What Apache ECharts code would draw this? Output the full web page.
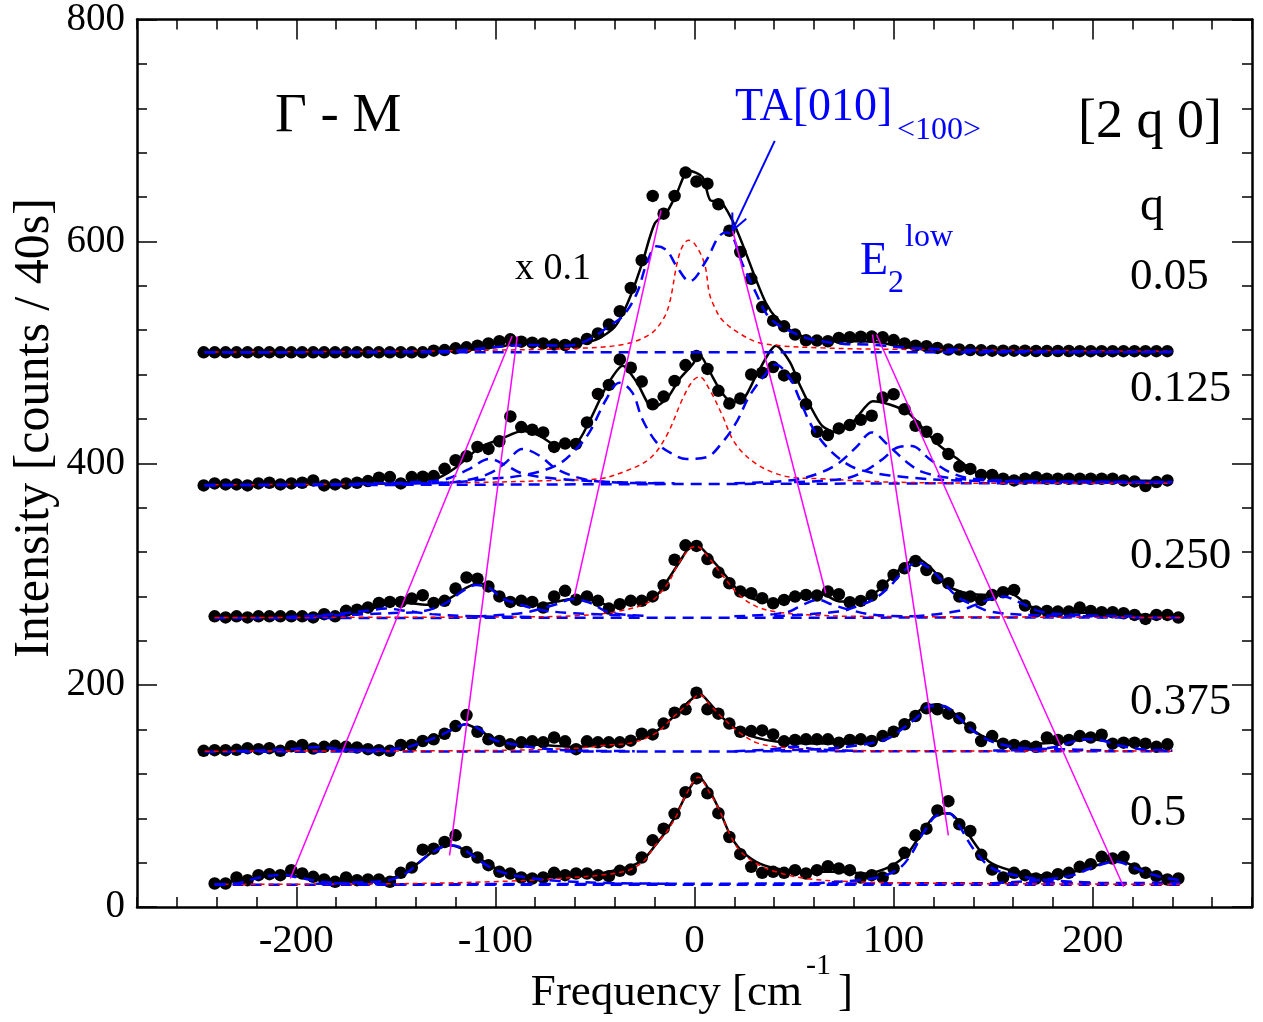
<!DOCTYPE html>
<html>
<head>
<meta charset="utf-8">
<title>Gamma - M [2 q 0]</title>
<script src="https://cdn.jsdelivr.net/npm/echarts@6.0.0/dist/echarts.min.js"></script>
<style>
  html, body { margin: 0; padding: 0; background: #fff; }
  #chart { width: 1263px; height: 1022px; }
</style>
</head>
<body>
<div id="chart"></div>
<script>
// frequency grid of the measured points (cm^-1)
const freq = [-246.5, -241, -235.5, -230, -224.5, -219, -213.5, -208, -202.5, -197,
  -191.5, -186, -180.5, -175, -169.5, -164, -158.5, -153, -147.5, -142,
  -136.5, -131, -125.5, -120, -114.5, -109, -103.5, -98, -92.5, -87,
  -81.5, -76, -70.5, -65, -59.5, -54, -48.5, -43, -37.5, -32,
  -26.5, -21, -15.5, -10, -4.5, 1, 6.5, 12, 17.5, 23,
  28.5, 34, 39.5, 45, 50.5, 56, 61.5, 67, 72.5, 78,
  83.5, 89, 94.5, 100, 105.5, 111, 116.5, 122, 127.5, 133,
  138.5, 144, 149.5, 155, 160.5, 166, 171.5, 177, 182.5, 188,
  193.5, 199, 204.5, 210, 215.5, 221, 226.5, 232, 237.5, 243];

// measured counts (offset), q = 0.05 / 0.125 / 0.375 start at freq[0], q = 0.25 / 0.5 at freq[1]
const dotsQ005 = [500, 500, 500, 500, 500, 500, 500, 500, 500, 500,
  500, 500, 500, 500, 500, 500, 500, 500, 500, 500,
  500, 501.5, 502, 503.6, 504.5, 506, 508, 510, 511.7, 509.6,
  508.7, 508, 507, 506.6, 508, 512, 517, 525, 537, 558,
  583, 641, 625, 641, 662, 654, 652, 633.5, 609.6, 590.4,
  566.2, 540.8, 528.5, 523.4, 516, 510.9, 510.6, 510, 513, 513.6,
  514, 514.2, 513.6, 511, 508, 506, 505.5, 504, 502.5, 502.5,
  502, 501.8, 501.5, 501.5, 501.5, 501.5, 501.2, 501.2, 501.2, 501.2,
  501, 501, 501, 501, 501, 501, 501, 501, 501];
const dotsQ0125 = [380, 381.8, 380.9, 380.9, 380, 381.8, 382.4, 380.9, 381.8, 382.4,
  384.5, 380, 380.9, 381.8, 382.4, 383.9, 386.9, 387.5, 381.8, 387.5,
  387.8, 388.4, 395, 402.7, 406.3, 414.7, 412.9, 419.8, 442.2, 432.6,
  430.2, 427.8, 414.7, 417.7, 417.4, 436.8, 462.5, 470.6, 493.6, 486.1,
  473.6, 453.2, 460.1, 474.2, 488.5, 496.6, 485, 465.3, 453.8, 458.3,
  480, 481.6, 486.7, 479.2, 477.1, 453.2, 428.4, 425.4, 431.4, 434.4,
  439.2, 442.8, 459.2, 462.2, 448.7, 433.8, 428.4, 421.8, 408.3, 397,
  394.9, 389.5, 389.5, 386, 384.5, 386, 387.4, 386, 386, 386,
  386, 386, 386, 386, 384.5, 383.6, 379.4, 383, 384.5];
const dotsQ025 = [262, 261, 262, 261, 262, 262, 262, 262, 262, 261,
  264, 262, 267, 268, 270, 274, 275, 275, 278, 281,
  274, 276, 287, 297, 296, 289, 280, 275, 276, 275,
  270, 280, 285, 277, 280, 276, 269, 273, 276, 276,
  280, 290, 313, 326, 325.5, 313.6, 301.6, 291.8, 284.3, 282.8,
  278.3, 273.8, 276.8, 279.8, 281.3, 280.7, 284.3, 281.9, 274.7, 275.9,
  280.7, 289.7, 299.3, 305.3, 311.9, 303.8, 296.3, 291.8, 279.8, 279.8,
  276.8, 281.3, 283.7, 285.8, 271.7, 266.3, 266.9, 266.3, 266.3, 269.9,
  266.9, 265.7, 265.7, 264.8, 263.3, 259.7, 263.3, 263.3, 260.9];
const dotsQ0375 = [140.8, 141.4, 141.4, 141.7, 143.2, 142.3, 143.2, 140.8, 144.9, 146.1,
  142.9, 144.4, 145.3, 144.4, 143.8, 142.3, 141.4, 140.8, 146.1, 146.1,
  149.6, 151.1, 156.2, 163.1, 173, 158, 151.1, 149.6, 146.6, 148.4,
  149.3, 148.4, 152.8, 149.3, 142.3, 149.3, 148.4, 148.4, 148.4, 149.9,
  156.2, 155.6, 165.3, 175.2, 178.2, 193.1, 178.2, 174.3, 165.3, 158,
  158.6, 159.2, 155.6, 149.3, 150.5, 151.1, 151.1, 151.1, 148.1, 150.5,
  151.1, 149.6, 154.1, 158, 164.7, 172.2, 179.1, 178.2, 174.3, 170.1,
  161.7, 149.6, 154.1, 147.2, 146.1, 145.2, 144.4, 152.8, 150.5, 150.5,
  154.1, 152.8, 155.3, 147.2, 148.1, 148.1, 147.2, 144.4, 146.6];
const dotsQ05 = [21.2, 21.2, 26.6, 24.2, 28.7, 29.6, 28.7, 33.2, 30.2, 27.2,
  24.8, 22.7, 26.6, 24.2, 24.8, 24.8, 22.7, 30.8, 35.6, 51.7,
  52.6, 58.6, 64.6, 49.6, 44.6, 37.7, 31.7, 30.2, 26.6, 25.7,
  26.6, 30.8, 28.7, 30.2, 30.2, 28.7, 27.8, 32.6, 33.8, 44.6,
  60.1, 70.6, 84, 103.4, 115.9, 102.5, 84.6, 63.1, 47.6, 36.2,
  30.8, 31.7, 30.8, 33.2, 30.2, 33.2, 36.8, 34.7, 33.2, 26.6,
  28.7, 26.6, 34.7, 48.8, 64.6, 70.6, 87, 95.4, 74.5, 68.5,
  47, 33.8, 26.6, 30.8, 28.7, 25.7, 26.6, 29.6, 30.8, 36.2,
  38.6, 45.2, 43.7, 45.2, 34.7, 30.8, 27.8, 24.8, 25.7];

// total fit (black line), [freq, counts]
const fitQ005 = [[-246, 500], [-140, 500.5], [-120, 501.5], [-105, 503.5], [-95, 506], [-85, 508], [-75, 508],
  [-65, 507.5], [-57, 508], [-50, 511], [-44, 517], [-40, 523], [-36, 535], [-31, 556], [-26, 582], [-20, 616],
  [-14, 626], [-9, 643], [-3, 664], [4, 658], [8, 637], [13, 636], [19, 619], [24, 598], [31, 565], [36, 544],
  [41, 531], [48, 520], [56, 513], [64, 510], [80, 510], [92, 509], [103, 505.5], [118, 502.5], [140, 501.5], [240, 501]];
const fitQ0125 = [[-246, 380.5], [-160, 381.5], [-147, 382.4], [-130, 386], [-120, 396], [-108, 414], [-97, 422],
  [-86.5, 429], [-78, 425], [-69, 416], [-59, 419], [-53, 437], [-44, 470], [-36, 488], [-29, 473], [-21, 450],
  [-14, 458], [-7.5, 476], [-1, 489], [2.5, 498], [7.5, 483], [13.6, 464], [19, 455], [25, 459], [31, 479],
  [41, 506], [48, 491], [53, 470], [58, 452], [64, 434], [71, 428], [79.5, 437], [89.5, 456], [98, 453],
  [107, 446], [115, 431], [123, 416], [132, 404], [140, 393], [148, 389], [165, 386], [238, 384]];
const fitQ025 = [[-241, 261], [-185, 261.5], [-170, 265], [-153.5, 273], [-145, 274], [-133, 272.4], [-123, 278.3],
  [-115, 287.4], [-108, 292], [-100, 284.5], [-92, 275.3], [-78, 272.4], [-69, 275.3], [-59, 278.3], [-49, 275.3],
  [-41, 271], [-31, 275.3], [-19, 281.3], [-14, 293.3], [-7.5, 311], [-2.5, 324.7], [1, 326.2], [7.5, 315.7],
  [14, 302.2], [22.6, 284.3], [31, 277], [41, 275.3], [53, 279.8], [63, 282.8], [73, 275.3], [81.5, 275.3],
  [91.6, 284.3], [101.6, 302.2], [112, 314.2], [118, 306.8], [128, 288.8], [137, 282.8], [148, 281.3],
  [158.5, 282.8], [168.6, 271], [182, 266.4], [199, 265], [224, 263.4], [244, 262]];
const fitQ0375 = [[-246, 141], [-215, 141.5], [-204, 143], [-195, 144.4], [-179, 143.8], [-162, 142.3], [-150, 143.1],
  [-140, 146.8], [-130, 152.7], [-122, 159.4], [-115, 164.8], [-108, 159.4], [-102, 152.7], [-93, 148.2],
  [-78, 146.2], [-61, 144.4], [-44, 146.2], [-31, 149.8], [-19, 158.7], [-11, 170.7], [-2.5, 185.7], [2.5, 192.2],
  [7.5, 184.1], [14, 170.7], [22.6, 158.7], [31, 152.7], [41, 149.1], [56, 147.4], [73, 147.4], [84.5, 148.2],
  [94.6, 152.7], [104.7, 163.2], [114.7, 179.6], [122, 182.7], [130, 175.2], [138, 161.7], [148, 151.3],
  [162, 146.8], [182, 148.2], [199, 151.3], [215, 147.4], [238.5, 143.8]];
const fitQ05 = [[-240.5, 21.2], [-229, 23.6], [-217, 27.2], [-207, 28.7], [-197, 27.2], [-184, 24.2], [-170, 22.7],
  [-157, 24.8], [-147, 28.7], [-137, 42.2], [-130, 51.7], [-123, 55.6], [-117, 52.6], [-108, 43.7], [-98, 33.2],
  [-86.5, 28.7], [-69, 27.2], [-53, 28.7], [-36, 34.7], [-26, 42.2], [-19, 57.2], [-14, 69.1], [-9, 84], [-4, 102],
  [1, 116.3], [2.5, 116.8], [7.5, 104.9], [12.6, 87], [17.6, 66.1], [22.6, 52.6], [31, 40.7], [41, 34.7],
  [56, 31.7], [73, 31.7], [86.5, 30.2], [98, 36.1], [107, 48.1], [115, 69.1], [122, 84], [128, 84.6], [135, 72],
  [142, 54.1], [148, 40.7], [158.5, 33.2], [174, 28.7], [190, 31.7], [202, 37.7], [212, 42.2], [220, 37.7],
  [232.5, 28.7], [243.5, 24.8]];

// central (quasi-elastic) component, red dashed
const centralQ005 = [[-246, 500.3], [-150, 501], [-100, 502], [-60, 503.5], [-36, 507], [-22.6, 516], [-16, 529],
  [-12.6, 544], [-7.5, 589], [-3, 601], [0, 598], [5, 580], [7.5, 553], [10, 541], [14, 529], [22.6, 517],
  [34, 508], [64, 504], [115, 502.5], [240, 501]];
const centralQ0125 = [[-246, 380.5], [-150, 381.5], [-100, 383], [-70, 384.5], [-48, 386], [-36, 392], [-22.6, 404],
  [-14, 425], [-6, 458], [-1, 474], [2.5, 478], [7.5, 466.6], [14, 443], [19, 422], [24, 410], [31, 399.5],
  [39, 392], [48, 387.5], [64, 386], [98, 383], [163, 382], [240, 382]];
const centralQ025 = [[-241, 261], [-90, 261.5], [-60, 262.5], [-40, 266], [-22.6, 275], [-14, 290], [-8.5, 308],
  [-2.5, 323], [1, 325], [7.5, 314], [14, 299], [22.6, 281], [31, 271], [41, 266], [56, 263.5], [81, 262], [244, 261]];
const centralQ0375 = [[-246, 140.5], [-110, 141], [-60, 143], [-44, 146], [-31, 148.2], [-19, 157.2], [-11, 170.7],
  [-2.5, 184], [2.5, 191.6], [7.5, 182.7], [14, 170.7], [22.6, 157.2], [31, 148.2], [41, 144.4], [56, 142.3],
  [81, 141], [240, 140.5]];
const centralQ05 = [[-241, 20.5], [-150, 21], [-103, 22.7], [-69, 25.7], [-36, 31.7], [-26, 40.7], [-19, 57.2],
  [-14, 67.6], [-9, 82.5], [-4, 102], [2, 117], [7.5, 103.4], [12.6, 87], [17.6, 66.1], [22.6, 51.1], [31, 39.2],
  [41, 31.7], [56, 25.7], [81, 22.7], [131, 21.2], [244, 20.5]];

// phonon components, blue dashed
const phononsQ005 = [
  [[-246, 500], [-140, 500.5], [-120, 501.5], [-103, 504], [-92, 506], [-80, 506.5], [-64, 506], [-53, 511.5],
   [-43, 523.6], [-36, 532.6], [-29, 553], [-24, 580], [-19, 595.5], [-14, 592], [-9, 577.6], [-2.5, 564], [6, 583],
   [12, 604], [16, 608], [19, 605], [24, 580], [31, 553], [36, 535], [41, 526], [48, 519], [56, 513], [64, 510],
   [75, 507.5], [87, 507], [95, 506], [103, 504.5], [128, 502.5], [160, 501], [240, 500.5]]
];
const phononsQ0125 = [
  [[-246, 380.5], [-150, 381.5], [-120, 383], [-103, 386], [-86.5, 389], [-69.4, 398], [-59.4, 412.9], [-52.8, 427.8],
   [-44.3, 457.7], [-37.7, 472.6], [-31.2, 463.7], [-26.2, 439.7], [-19.1, 418.8], [-12.6, 409.9], [-4, 403.9],
   [6, 405.4], [14, 418.8], [21, 436.8], [27.7, 461], [36.2, 481.6], [40.8, 489], [47.8, 477], [52.8, 457.7],
   [57.9, 436.8], [64.4, 418.8], [73, 403.9], [81.5, 395], [98, 389], [132, 384.5], [240, 383]],
  [[-170, 381.5], [-140, 383], [-125, 385.6], [-113, 394.9], [-103, 403.9], [-94.6, 398], [-86.5, 390.8],
   [-69, 386], [-40, 383], [-10, 382]],
  [[-150, 381.5], [-125, 382.5], [-115, 384.5], [-103, 390.8], [-94.6, 401], [-86.5, 412.9], [-78, 407],
   [-69.4, 395], [-56.4, 386], [-44, 383], [-20, 382]],
  [[20, 382], [50, 385], [64, 392], [73, 401], [81.5, 415], [89, 427.8], [98, 415], [106.7, 401], [114.7, 392],
   [132, 386], [170, 383.5]],
  [[50, 383], [75, 386], [84.5, 392], [94.6, 403.9], [101.6, 414], [109, 415.5], [118, 403.9], [128, 392],
   [140, 386], [170, 384], [240, 383]]
];
const phononsQ025 = [
  [[-205, 261.5], [-180, 264], [-165, 267], [-155, 269], [-145, 267], [-132, 264], [-110, 262], [-80, 261.5]],
  [[-190, 262], [-153.5, 264.9], [-137, 266.4], [-125, 273.8], [-116.7, 284.5], [-109.7, 290.2], [-103, 287.4],
   [-96.6, 278.3], [-89.6, 273.8], [-78, 267.9], [-61, 264.9], [-30, 262.5]],
  [[-110, 262], [-86.5, 265], [-69.4, 272.9], [-61.4, 277.4], [-52.8, 274.4], [-42.8, 265.5], [-25, 262.5]],
  [[20, 262], [40, 264], [47.8, 266.4], [54.3, 272.4], [62, 276.9], [69.4, 272.4], [78, 267.9], [89.6, 263.4], [110, 262]],
  [[40, 262], [73, 266.4], [81.5, 270.9], [89.6, 276.9], [98, 288.8], [104.7, 302.2], [112, 310.6], [118, 305.3],
   [124.8, 293.3], [131.8, 279.8], [140, 272.4], [148.4, 266.4], [165, 263.4], [200, 262]],
  [[110, 262], [133, 267], [145, 275.3], [155, 279.8], [163.5, 274.4], [173.6, 266.4], [190, 263.4], [220, 262]]
];
const phononsQ0375 = [
  [[-230, 140.5], [-205, 142], [-190, 144], [-175, 142], [-155, 140.8]],
  [[-180, 141], [-147, 143.1], [-137, 148.2], [-127, 155.2], [-120, 161.7], [-114.7, 164.8], [-108, 160.3],
   [-101.6, 151.3], [-93, 147.4], [-78, 143.1], [-61, 141], [-30, 140.5]],
  [[20, 140.5], [38, 142], [50, 144.5], [62, 142], [80, 140.8]],
  [[40, 141], [64, 142.5], [81.5, 145.5], [96.6, 151.3], [103, 158.7], [111.7, 170.7], [118, 181.2], [125, 181.2],
   [131.8, 172.2], [140, 158.7], [148.4, 149.8], [157, 145.3], [165, 143.1], [182, 142.3], [210, 141]],
  [[150, 141], [170, 142], [182, 144.4], [190, 149.1], [197, 151.3], [205, 149.8], [214, 145.3], [224, 142.3], [240, 141]]
];
const phononsQ05 = [
  [[-241, 20.5], [-229, 21.5], [-220, 26], [-207, 29], [-199, 26.6], [-187, 22.7], [-170, 21], [-150, 20.5]],
  [[-190, 21], [-170, 22], [-153.5, 24.2], [-145, 30.2], [-137, 42.2], [-130, 51.1], [-123, 55.6], [-118, 54.1],
   [-111.7, 46.6], [-103, 36.1], [-94.6, 30.2], [-86.5, 27.2], [-69.4, 23.6], [-40, 21.5], [-10, 21]],
  [[60, 21.5], [89.6, 25.7], [101.6, 33.2], [108, 45.1], [114.7, 66.1], [121.8, 82.5], [128, 84], [133.3, 72],
   [140, 52.6], [148.4, 36.1], [157, 30.2], [173.6, 24.8], [200, 22]],
  [[150, 21.5], [175, 24.5], [190, 28.7], [198.7, 34.7], [207, 39.7], [212, 40.7], [219, 36.8], [227.4, 30.8],
   [235.5, 26.6], [243.5, 24.2]]
];

// flat backgrounds, blue dashed
const backgrounds = [
  [[-246, 500], [240, 500]],
  [[-246, 380], [240, 382.5]],
  [[-241, 260.5], [244, 261]],
  [[-246, 140], [240, 140.5]],
  [[-241, 20], [244, 20]],
  [[-150, 20.5], [244, 21.8]]
];

// dispersion guide lines (magenta)
const guideLines = [
  [[-91.6, 514.5], [-203, 25.7]],
  [[-89, 514.5], [-123, 46.6]],
  [[-16.8, 628], [-60.4, 279.8]],
  [[19.1, 610], [65.9, 282.8]],
  [[89.4, 516], [127.5, 64.6]],
  [[91.4, 516], [215.5, 18.2]]
];

// arrow pointing at TA[010] peak
const arrowShaft = [[40.3, 690.6], [19.1, 609.9]];
const arrowHead = [[26, 620.4], [19.1, 609.9], [19, 626]];

const xMajor = [-200, -100, 0, 100, 200];

const FONT = 'Liberation Serif';
const BLUE = '#0000ff';
const RED = '#ff0000';
const MAGENTA = '#ff00ff';

function zipDots(offset, values) {
  return values.map((v, k) => [freq[k + offset], v]);
}

function curve(data, color, width, type, smooth) {
  return {
    type: 'line', data: data, showSymbol: false, smooth: smooth,
    lineStyle: { color: color, width: width, type: type },
    silent: true
  };
}

const series = [];

// measured points
[[0, dotsQ005], [0, dotsQ0125], [1, dotsQ025], [0, dotsQ0375], [1, dotsQ05]].forEach(function (d) {
  series.push({
    type: 'scatter', data: zipDots(d[0], d[1]), symbol: 'circle', symbolSize: 12.5,
    itemStyle: { color: '#000', opacity: 1 }, silent: true
  });
});

// total fits
[fitQ005, fitQ0125, fitQ025, fitQ0375, fitQ05].forEach(function (f) {
  series.push(curve(f, '#000', 2.5, 'solid', 0.25));
});

// backgrounds
backgrounds.forEach(function (b) {
  series.push(curve(b, BLUE, 2.5, [11, 7], false));
});

// central peaks
[centralQ005, centralQ0125, centralQ025, centralQ0375, centralQ05].forEach(function (c) {
  series.push(curve(c, RED, 1.5, [5, 4], 0.35));
});

// phonons
[phononsQ005, phononsQ0125, phononsQ025, phononsQ0375, phononsQ05].forEach(function (group) {
  group.forEach(function (p) {
    series.push(curve(p, BLUE, 2.5, [11, 7], 0.35));
  });
});

// guide lines
guideLines.forEach(function (g) {
  series.push(curve(g, MAGENTA, 1.5, 'solid', false));
});

series.push(curve(arrowShaft, BLUE, 2, 'solid', false));
series.push(curve(arrowHead, BLUE, 2, 'solid', false));

function xAxisDef(position, major, showLabel) {
  const ax = {
    type: 'value', position: position, min: -280, max: 280,
    axisLine: { show: major, onZero: false, lineStyle: { color: '#000', width: 2.5 } },
    splitLine: { show: false },
    axisLabel: { show: false }
  };
  if (major) {
    ax.axisTick = { show: true, inside: true, length: 20, customValues: xMajor, lineStyle: { color: '#000', width: 1.5 } };
    if (showLabel) {
      ax.axisLabel = {
        show: true, customValues: xMajor, margin: 14,
        fontFamily: FONT, fontSize: 41, color: '#000'
      };
    }
  } else {
    ax.interval = 20;
    ax.axisTick = { show: true, inside: true, length: 10, lineStyle: { color: '#000', width: 1.5 } };
  }
  return ax;
}

function yAxisDef(position, showLabel) {
  return {
    type: 'value', position: position, min: 0, max: 800, interval: 200,
    axisLine: { show: true, onZero: false, lineStyle: { color: '#000', width: 2.5 } },
    axisTick: { show: true, inside: true, length: 20, lineStyle: { color: '#000', width: 1.5 } },
    minorTick: { show: true, splitNumber: 5, length: 10, lineStyle: { color: '#000', width: 1.5 } },
    splitLine: { show: false },
    axisLabel: { show: showLabel, margin: 12, fontFamily: FONT, fontSize: 39, color: '#000' }
  };
}

function label(text, x, y, size, color, align) {
  return {
    type: 'text', x: x, y: y, silent: true,
    style: {
      text: text, fontFamily: FONT, fontSize: size, fill: color || '#000',
      align: align || 'left', verticalAlign: 'middle'
    }
  };
}

const chart = echarts.init(document.getElementById('chart'));
chart.setOption({
  animation: false,
  backgroundColor: '#fff',
  grid: { left: 137, right: 11, top: 15, bottom: 115 },
  xAxis: [
    xAxisDef('bottom', true, true),
    xAxisDef('bottom', false, false),
    xAxisDef('top', true, false),
    xAxisDef('top', false, false)
  ],
  yAxis: [yAxisDef('left', true), yAxisDef('right', false)],
  series: series,
  graphic: [
    label('\u0393 - M', 275, 117, 55),
    label('[2 q 0]', 1078, 123, 54),
    label('q', 1140, 207, 48),
    label('0.05', 1130, 277, 45),
    label('0.125', 1130, 389, 45),
    label('0.250', 1130, 556, 45),
    label('0.375', 1130, 702, 45),
    label('0.5', 1130, 813, 45),
    label('x 0.1', 515, 269, 38),
    label('TA[010]', 735, 108, 46, BLUE),
    label('<100>', 897, 131, 32, BLUE),
    label('E', 860, 262, 46, BLUE),
    label('2', 888, 284, 32, BLUE),
    label('low', 905, 238, 32, BLUE),
    label('Frequency [cm', 802, 993, 45, '#000', 'right'),
    label('-1', 806, 966, 30),
    label(']', 838, 993, 45),
    {
      type: 'text', x: 35, y: 428, rotation: Math.PI / 2, silent: true,
      style: {
        text: 'Intensity [counts / 40s]', fontFamily: FONT, fontSize: 50, fill: '#000',
        align: 'center', verticalAlign: 'middle'
      }
    }
  ]
});
</script>
</body>
</html>
